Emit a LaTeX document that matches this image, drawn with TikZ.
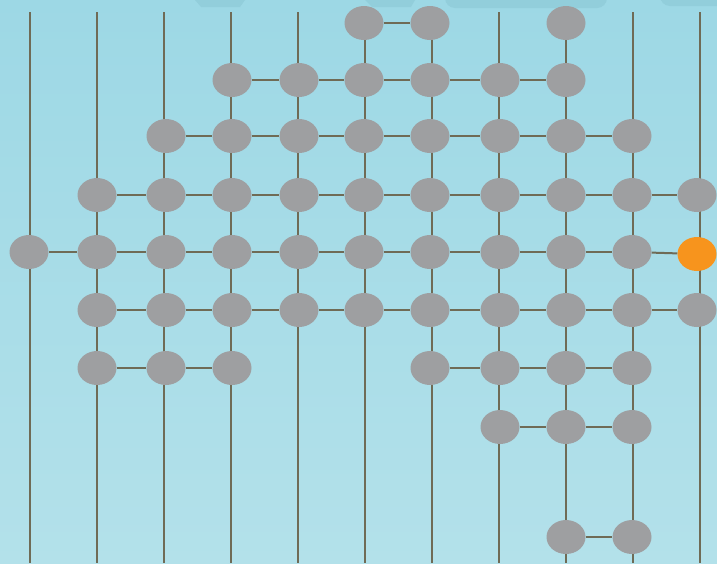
\documentclass[tikz,border=0pt]{standalone}
\usetikzlibrary{shapes.geometric}
\definecolor{bgtop}{RGB}{157,216,229}
\definecolor{bgbot}{RGB}{179,225,234}
\definecolor{wirec}{RGB}{111,107,86}
\definecolor{dotc}{RGB}{158,159,161}
\definecolor{hotc}{RGB}{247,148,29}
\definecolor{blobc}{RGB}{146,206,219}
\pgfdeclarelayer{back}
\pgfdeclarelayer{wires}
\pgfsetlayers{back,wires,main}
\begin{document}
\begin{tikzpicture}[x=1pt,y=-1pt,
  dotnode/.style={ellipse,fill=dotc,minimum width=39pt,minimum height=34pt,inner sep=0pt},
  hotnode/.style={dotnode,fill=hotc},
  wire/.style={draw=wirec,line width=2pt},
  blob/.style={fill=blobc}]
\useasboundingbox (0,0) rectangle (717,563);
\begin{pgfonlayer}{back}
  \shade[top color=bgtop,bottom color=bgbot] (0,0) rectangle (717,563);
  \fill[blob] (195,0) -- (245,0) -- (240,7) -- (201,7) -- cycle;
  \fill[blob] (365,0) -- (415,0) -- (411,7) -- (372,7) -- cycle;
  \fill[blob,rounded corners=10pt] (445,-20) rectangle (607,8);
  \fill[blob,rounded corners=10pt] (660,-20) rectangle (740,6);
\end{pgfonlayer}
\def\colx{{29,97,166,232,299,364,430,500,566,632,697}}
\def\linex{{30,97,164,231,298,365,432,499,566,633,700}}
% vertical wires
\foreach \i in {0,...,10}{
  \pgfmathsetmacro\lx{\linex[\i]}
  \coordinate (t\i) at (\lx,12);
  \coordinate (b\i) at (\lx,563);
  \begin{pgfonlayer}{wires}
    \draw[wire] (t\i) -- (b\i);
  \end{pgfonlayer}
}
% nodes
\foreach \r/\y/\a/\b in {0/23/5/6,0/23/8/8,1/80/3/8,2/136/2/9,3/195/1/10,4/252/0/9,5/310/1/10,6/368/1/3,6/368/6/9,7/427/7/9,8/537/8/9}{
  \foreach \c in {\a,...,\b}{
    \pgfmathsetmacro\xx{\colx[\c]}
    \node[dotnode] (n\r-\c) at (\xx,\y) {};
  }
}
\node[hotnode] (n4-10) at (697,254) {};
% horizontal wires
\begin{pgfonlayer}{wires}
\foreach \r/\a/\b in {0/5/6,1/3/8,2/2/9,3/1/10,4/0/10,5/1/10,6/1/3,6/6/9,7/7/9,8/8/9}{
  \pgfmathtruncatemacro\bm{\b-1}
  \foreach \c in {\a,...,\bm}{
    \pgfmathtruncatemacro\d{\c+1}
    \draw[wire] (n\r-\c) -- (n\r-\d);
  }
}
\end{pgfonlayer}
\end{tikzpicture}
\end{document}
